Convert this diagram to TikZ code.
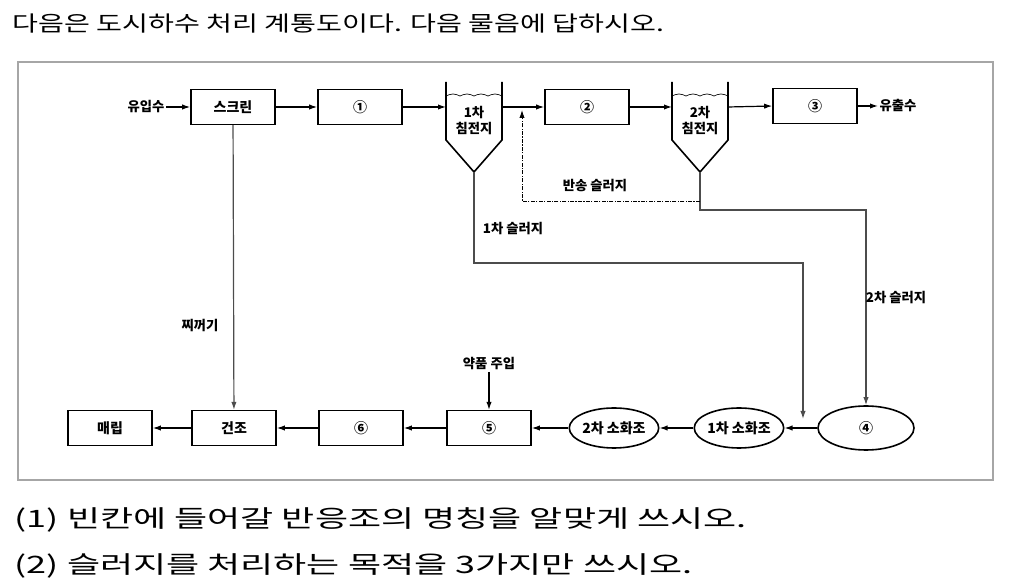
\documentclass[tikz,border=0pt]{standalone}
\usepackage{fontspec}
\setmainfont{Noto Sans CJK KR}
\usetikzlibrary{arrows.meta,shapes.geometric}
\begin{document}
\begin{tikzpicture}[x=0.75pt,y=-0.75pt,
 box/.style={draw,line width=1.2pt,minimum width=63pt,minimum height=26pt,inner sep=0pt,font=\bfseries\fontsize{10.5}{11}\selectfont},
 ell/.style={draw,line width=1.2pt,ellipse,minimum width=67pt,minimum height=30pt,inner sep=0pt,font=\bfseries\fontsize{10.5}{11}\selectfont},
 lab/.style={font=\bfseries\fontsize{10}{11}\selectfont,inner sep=1pt},
 ar/.style={-{Latex[length=6pt,width=4pt]},line width=0.9pt}]
\useasboundingbox (0,0) rectangle (1026,584);
\node[anchor=west,font=\fontsize{16}{18}\selectfont] (title) at (8,24) {\scalebox{1.32}[1]{다음은 도시하수 처리 계통도이다. 다음 물음에 답하시오.}};
\draw[gray!70,line width=1pt] (18,62) rectangle (993,480);
% top row
\node[lab,anchor=east] (in) at (166,107) {유입수};
\node[box] (scr) at (233,107) {스크린};
\node[box] (b1) at (360,107) {①};
\node[box] (b2) at (587,107) {②};
\node[box] (b3) at (815,106) {③};
\node[lab,anchor=west] (out) at (878,106) {유출수};
% tanks
\draw[line width=1.2pt] (446,82) -- (446,140) -- (474,172) -- (502,140) -- (502,82);
\draw[line width=0.5pt] (446,96) sin (453,94) cos (460,96) sin (467,94) cos (474,96) sin (481,94) cos (488,96) sin (495,94) cos (502,96);
\node[lab,align=center,font=\bfseries\fontsize{10}{12}\selectfont] (t1) at (474,121) {1차\\침전지};
\coordinate (t1in) at (446,107); \coordinate (t1out) at (502,107); \coordinate (t1b) at (474,172);
\draw[line width=1.2pt] (672,82) -- (672,140) -- (700,172) -- (728,140) -- (728,82);
\draw[line width=0.5pt] (672,96) sin (679,94) cos (686,96) sin (693,94) cos (700,96) sin (707,94) cos (714,96) sin (721,94) cos (728,96);
\node[lab,align=center,font=\bfseries\fontsize{10}{12}\selectfont] (t2) at (700,121) {2차\\침전지};
\coordinate (t2in) at (672,107); \coordinate (t2out) at (728,107); \coordinate (t2b) at (700,172);
\draw[ar] (in) -- (scr);
\draw[ar] (scr) -- (b1);
\draw[ar] (b1.east) -- (t1in);
\draw[ar] (t1out) -- (b2.west);
\draw[ar] (b2.east) -- (t2in);
\draw[ar] (t2out) -- (b3.west);
\draw[ar] (b3) -- (out);
% bottom row
\node[box] (mae) at (110,428) {매립};
\node[box] (dry) at (234,428) {건조};
\node[box] (b6) at (361,428) {⑥};
\node[box] (b5) at (489,428) {⑤};
\node[ell] (d2) at (614,428) {2차 소화조};
\node[ell] (d1) at (739,428) {1차 소화조};
\node[ell,minimum width=72pt,minimum height=33pt] (b4) at (866,428) {④};
\node[lab] (chem) at (489,364) {약품 주입};
\draw[ar] (chem) -- (b5);
\draw[ar] (b4) -- (d1);
\draw[ar] (d1) -- (d2);
\draw[ar] (d2) -- (b5);
\draw[ar] (b5) -- (b6);
\draw[ar] (b6) -- (dry);
\draw[ar] (dry) -- (mae);
% screenings
\draw[ar,gray!60!black] (scr) -- (dry);
\node[lab] (jj) at (200,326) {찌꺼기};
% sludges
\draw[ar,gray!60!black] (t1b) -- (474,263) -- (803,263) -- (803,419);
\node[lab] (s1) at (513,229) {1차 슬러지};
\draw[ar,gray!60!black] (t2b) -- (700,210) -- (866,210) -- (b4.north);
\node[lab] (s2) at (896,298) {2차 슬러지};
\draw[ar,densely dashdotted,line width=0.7pt] (700,201) -- (522,201) -- (522,110);
\node[lab] (rs) at (595,186) {반송 슬러지};
% questions
\node[anchor=west,font=\fontsize{18}{20}\selectfont] (q1) at (10,520) {\scalebox{1.5}[1]{(1) 빈칸에 들어갈 반응조의 명칭을 알맞게 쓰시오.}};
\node[anchor=west,font=\fontsize{18}{20}\selectfont] (q2) at (10,566) {\scalebox{1.5}[1]{(2) 슬러지를 처리하는 목적을 3가지만 쓰시오.}};
\end{tikzpicture}
\end{document}
